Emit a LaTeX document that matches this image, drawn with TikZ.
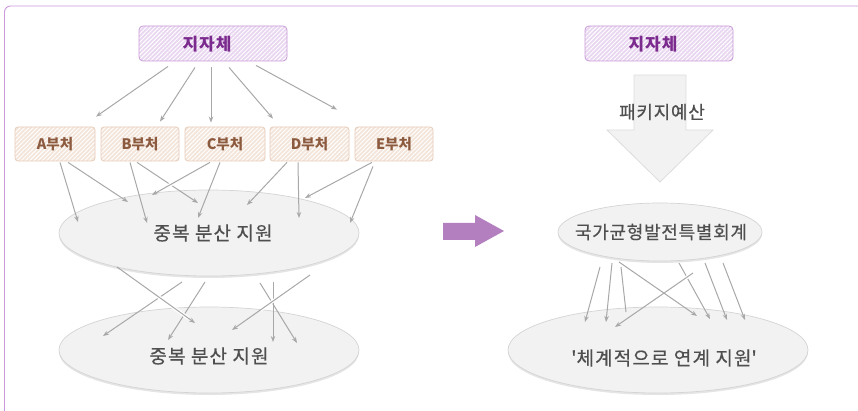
\documentclass[tikz,border=0pt]{standalone}
\usepackage{fontspec}
\setmainfont{Noto Sans CJK KR}
\newfontfamily\labelfont[FakeBold=0.5]{Noto Sans CJK KR}
\usetikzlibrary{arrows.meta,shapes.geometric,patterns.meta,shadows}

\definecolor{framec}{HTML}{CC99DD}
\definecolor{purpleedge}{HTML}{C99AD8}
\definecolor{purplefill}{HTML}{E9D6F0}
\definecolor{purpletext}{HTML}{7B2A8E}
\definecolor{beigeedge}{HTML}{E8CDBA}
\definecolor{beigefill}{HTML}{F4E5DA}
\definecolor{beigetext}{HTML}{8C5A3E}
\definecolor{ellfill}{HTML}{F2F2F2}
\definecolor{elledge}{HTML}{D4D4D4}
\definecolor{arrowgray}{HTML}{A8A8A8}
\definecolor{bigarrowedge}{HTML}{DCDCDC}
\definecolor{movearrow}{HTML}{B37FBF}
\definecolor{bodytext}{HTML}{4F4F4F}

\tikzset{
  govbox/.style={draw=purpleedge, line width=0.8pt, rounded corners=4pt,
    preaction={fill=purplefill},
    pattern={Lines[angle=45,distance=3pt,line width=0.9pt]}, pattern color=white,
    minimum width=148pt, minimum height=35pt, inner sep=0pt},
  govtext/.style={text=purpletext,
    font=\fontsize{17}{20}\selectfont\bfseries\addfontfeature{LetterSpace=6}},
  deptbox/.style={draw=beigeedge, line width=0.8pt, rounded corners=3pt,
    preaction={fill=beigefill},
    pattern={Lines[angle=45,distance=3pt,line width=0.9pt]}, pattern color=white,
    minimum width=79pt, minimum height=34pt, inner sep=0pt,
    text=beigetext, font=\fontsize{14.5}{17}\selectfont\bfseries},
  budget/.style={ellipse, draw=elledge, line width=0.7pt, fill=ellfill,
    drop shadow={shadow xshift=0pt, shadow yshift=-2pt, opacity=0.10, fill=black},
    inner sep=0pt},
  etext/.style={text=bodytext,
    font=\labelfont\fontsize{19}{22}\selectfont\addfontfeature{LetterSpace=6}},
  arr/.style={draw=arrowgray, line width=1pt, -{Stealth[length=6pt,width=4.5pt]}},
  plainline/.style={draw=arrowgray, line width=1pt},
  halo/.style 2 args={preaction={draw=white, line width=3.5pt, arrows=-,
    shorten <=#1, shorten >=#2}},
}

\begin{document}
\begin{tikzpicture}[x=1pt,y=-1pt]
\useasboundingbox (0,0) rectangle (858,411);

% page frame
\draw[framec, line width=0.9pt, rounded corners=6pt] (880,6) -- (4.5,6) -- (4.5,430);

% ---------- left: scattered support ----------
\node[govbox] (jL) at (213,43.5) {};
\node[govtext] (jLt) at (207,44) {지자체};
\node[deptbox, minimum width=80pt] (dA) at (55,144) {A부처};
\node[deptbox, minimum width=78pt] (dB) at (140,144) {B부처};
\node[deptbox, minimum width=80pt] (dC) at (225,144) {C부처};
\node[deptbox, minimum width=79pt] (dD) at (309.5,144) {D부처};
\node[deptbox, minimum width=78pt] (dE) at (394,144) {E부처};

\node[budget, minimum width=300pt, minimum height=86pt] (e1) at (209,233) {};
\node[etext] (t1) at (213,233) {중복 분산 지원};
\node[budget, minimum width=300pt, minimum height=86pt] (e2) at (209,350) {};
\node[etext] (t2) at (209,356) {중복 분산 지원};

% local government to departments
\draw[arr] ([xshift=-45pt,yshift=-5pt]jL.south) -- ([xshift=41pt,yshift=10pt]dA.north);
\draw[arr] ([xshift=-18pt,yshift=-6pt]jL.south) -- ([xshift=20pt,yshift=5pt]dB.north);
\draw[arr] ([xshift=-2pt,yshift=-6pt]jL.south) -- ([xshift=-14pt,yshift=4pt]dC.north);
\draw[arr] ([xshift=16pt,yshift=-6pt]jL.south) -- ([xshift=-36.5pt,yshift=8pt]dD.north);
\draw[arr] ([xshift=43pt,yshift=-4pt]jL.south) -- ([xshift=-57pt,yshift=17pt]dE.north);

% departments to the first layer
\draw[arr] ([xshift=5pt,yshift=-1pt]dA.south) -- ([xshift=-131pt,yshift=11pt]e1.center);
\draw[arr] ([xshift=13pt,yshift=-1pt]dA.south) -- ([xshift=-81pt,yshift=31pt]e1.center);
\draw[arr] ([xshift=-10pt,yshift=-1pt]dB.south) -- ([xshift=-62pt,yshift=10pt]e1.center);
\draw[arr] ([xshift=-3pt,yshift=-1pt]dB.south) -- ([xshift=-11pt,yshift=30pt]e1.center);
\draw[arr, halo={30pt}{12pt}] ([xshift=-15pt,yshift=-1pt]dC.south) -- ([xshift=-57pt,yshift=38pt]e1.center);
\draw[arr] ([xshift=-5pt,yshift=-1pt]dC.south) -- ([xshift=-11pt,yshift=15pt]e1.center);
\draw[arr] ([xshift=-22.5pt,yshift=-1pt]dD.south) -- ([xshift=38pt,yshift=28pt]e1.center);
\draw[arr] ([xshift=-11.5pt,yshift=-1pt]dD.south) -- ([xshift=90pt,yshift=15pt]e1.center);
\draw[arr] ([xshift=-22pt,yshift=-1pt]dE.south) -- ([xshift=96pt,yshift=35pt]e1.center);
\draw[arr] ([xshift=-21pt,yshift=-5pt]dE.south) -- ([xshift=141pt,yshift=10pt]e1.center);

% first layer to second layer
\draw[arr] ([xshift=-27pt,yshift=-49pt]e1.center) -- ([xshift=-106pt,yshift=14pt]e2.center);
\draw[arr] ([xshift=-4pt,yshift=-49pt]e1.center) -- ([xshift=-41pt,yshift=10pt]e2.center);
\draw[arr, halo={38pt}{8pt}] ([xshift=-92pt,yshift=-34pt]e1.center) -- ([xshift=-14pt,yshift=27pt]e2.center);
\draw[arr] ([xshift=51pt,yshift=-50pt]e1.center) -- ([xshift=88pt,yshift=7pt]e2.center);
\draw[arr] ([xshift=64pt,yshift=-49pt]e1.center) -- ([xshift=64pt,yshift=8pt]e2.center);
\draw[arr, halo={33pt}{35pt}] ([xshift=101pt,yshift=-42pt]e1.center) -- ([xshift=23pt,yshift=20pt]e2.center);

% ---------- transition ----------
\fill[movearrow] (443,223) -- (475,223) -- (475,215) -- (504,231) -- (475,247) -- (475,240) -- (443,240) -- cycle;

% ---------- right: linked support ----------
\node[govbox] (jR) at (659,43.5) {};
\node[govtext] (jRt) at (653,44) {지자체};

\filldraw[fill=ellfill, draw=bigarrowedge, line width=0.8pt]
  (634,75) -- (686,75) -- (686,130) -- (713,130) -- (660,182) -- (607,130) -- (634,130) -- cycle;
\node[etext, font=\labelfont\fontsize{18}{21}\selectfont\addfontfeature{LetterSpace=4}] (pkg) at (662,112) {패키지예산};

\node[budget, minimum width=204pt, minimum height=58pt] (ek) at (660,232) {};
\node[etext, font=\labelfont\fontsize{18}{21}\selectfont\addfontfeature{LetterSpace=4}] (tk) at (661,232) {국가균형발전특별회계};
\node[budget, minimum width=300pt, minimum height=86pt] (e3) at (658,350) {};
\node[etext] (t3) at (664,358) {\textquotesingle 체계적으로 연계 지원\textquotesingle};

\draw[arr] ([xshift=-60pt,yshift=-35pt]ek.center) -- ([xshift=-73pt,yshift=28pt]e3.center);
\draw[arr] ([xshift=-48pt,yshift=-31pt]ek.center) -- ([xshift=-52pt,yshift=28pt]e3.center);
\draw[plainline] ([xshift=-39pt,yshift=-35pt]ek.center) -- ([xshift=-32pt,yshift=38pt]e3.center);
\draw[arr] ([xshift=-41pt,yshift=-30pt]ek.center) -- ([xshift=39pt,yshift=34pt]e3.center);
\draw[arr] ([xshift=19pt,yshift=-31pt]ek.center) -- ([xshift=52pt,yshift=31pt]e3.center);
\draw[arr] ([xshift=45pt,yshift=-31pt]ek.center) -- ([xshift=69pt,yshift=30pt]e3.center);
\draw[arr] ([xshift=63pt,yshift=-31pt]ek.center) -- ([xshift=87pt,yshift=30pt]e3.center);
\draw[arr, halo={3pt}{65pt}] ([xshift=33pt,yshift=-41pt]ek.center) -- ([xshift=-43pt,yshift=23pt]e3.center);

\end{tikzpicture}
\end{document}
